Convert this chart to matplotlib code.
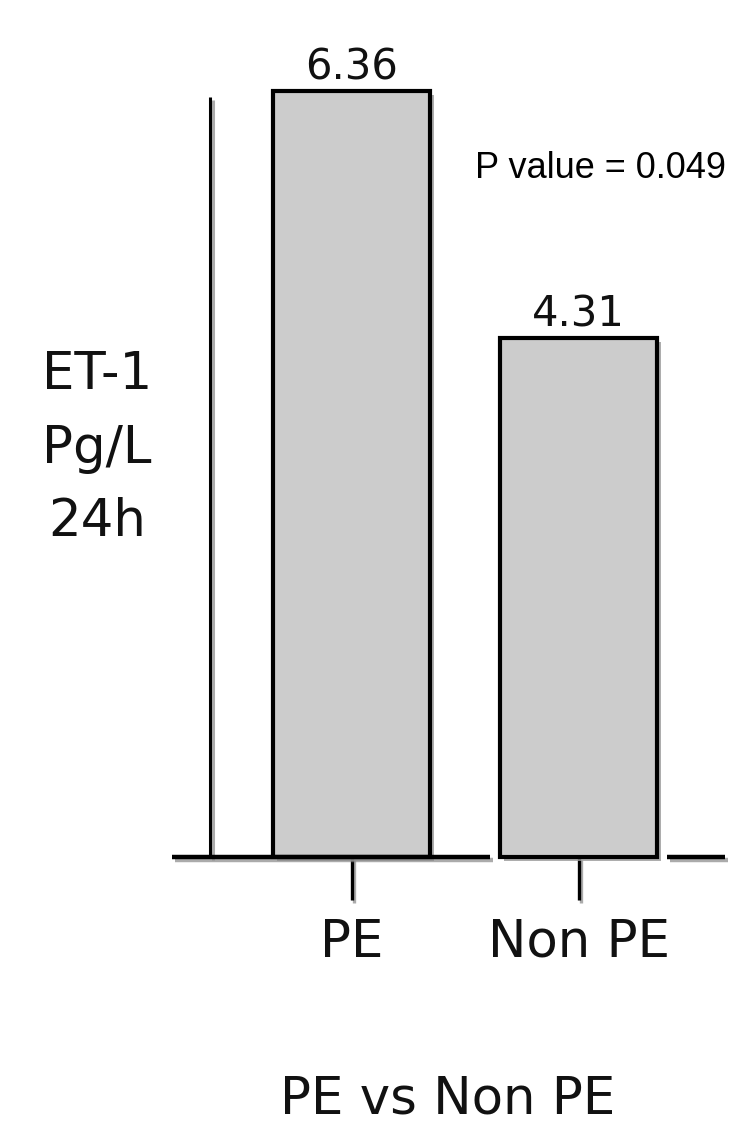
import matplotlib
matplotlib.use('Agg')
import matplotlib.pyplot as plt
import matplotlib.patheffects as pe

# data
groups = ['PE', 'Non PE']
values = [6.36, 4.31]
value_labels = ['6.36', '4.31']
ylabel_txt = 'ET-1\nPg/L\n24h'
xlabel_txt = 'PE vs Non PE'
p_text = 'P value = 0.049'

big_font = ['DejaVu Sans']

fig = plt.figure(figsize=(7.35, 11.26), dpi=100)
ax = fig.add_axes([0, 0, 1, 1])
ax.set_xlim(-1.5485, 1.6894)
ax.set_ylim(-2.234, 7.118)
ax.axis('off')

line_fx = [pe.SimpleLineShadow(offset=(2, -2), shadow_color='#888888', alpha=0.7),
           pe.Normal()]
bar_fx = [pe.SimplePatchShadow(offset=(3, -3), shadow_rgbFace='#999999', alpha=0.8),
          pe.Normal()]

x = list(range(len(groups)))
bars = ax.bar(x, values, width=0.69, color='#cccccc', edgecolor='black',
              linewidth=3.0, zorder=3)
for b in bars:
    b.set_path_effects(bar_fx)

# left axis line
ax.plot([-0.623, -0.623], [0, 6.31], color='black', lw=2.2,
        solid_capstyle='butt', zorder=2, path_effects=line_fx)
# baseline segments
ax.plot([-0.791, 0.61], [0, 0], color='black', lw=3.2,
        solid_capstyle='butt', zorder=4, path_effects=line_fx)
ax.plot([1.39, 1.645], [0, 0], color='black', lw=3.2,
        solid_capstyle='butt', zorder=4, path_effects=line_fx)
# tick marks
for xi in x:
    ax.plot([xi, xi], [0, -0.357], color='black', lw=2.4,
            solid_capstyle='butt', zorder=2, path_effects=line_fx)

# value labels
for xi, v, lab in zip(x, values, value_labels):
    ax.text(xi, v + 0.1, lab, ha='center', va='baseline', fontsize=30,
            family=big_font, color='#111111')

# category labels
for xi, g in zip(x, groups):
    ax.text(xi, -0.83, g, ha='center', va='baseline', fontsize=37,
            family=big_font, color='#111111')

ax.text(0.425, -2.13, xlabel_txt, ha='center', va='baseline', fontsize=37,
        family=big_font, color='#111111')
ax.text(-1.121, 3.39, ylabel_txt, ha='center', va='center', fontsize=37,
        family=big_font, color='#111111', linespacing=1.6)

ax.text(1.099, 5.72, p_text, ha='center', va='center', fontsize=26,
        family=['Liberation Sans', 'DejaVu Sans'], color='black')

fig.savefig('out.png', dpi=100)
